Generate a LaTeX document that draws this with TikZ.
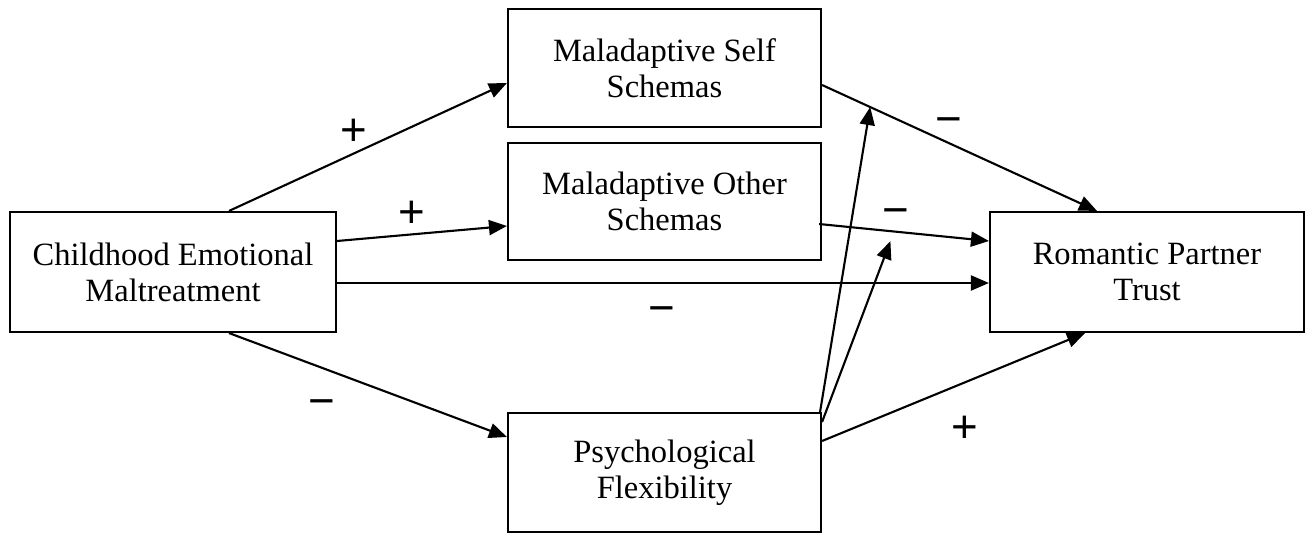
\documentclass[tikz,border=0pt]{standalone}
\usepackage{fontspec}
\setmainfont{Liberation Serif}
\newfontfamily\signfont{Liberation Sans}
\usetikzlibrary{arrows.meta,positioning,calc}

\begin{document}
\begin{tikzpicture}[
  box/.style={rectangle,draw=black,line width=1.2pt,minimum width=6.26cm,
              minimum height=2.36cm,align=center,
              font=\fontsize{18.5}{20.5}\selectfont},
  arr/.style={-{Triangle[length=0.36cm,width=0.3cm]},line width=1.2pt},
  sign/.style={font=\signfont\fontsize{26}{30}\selectfont,inner sep=0pt}
]
  \useasboundingbox (0,0) rectangle (26.16,-10.66);

  \node[box,minimum width=6.52cm,minimum height=2.4cm] (cem) at (3.46,-5.44)
        {Childhood Emotional\\Maltreatment};
  \node[box] (mss) at (13.29,-1.36) {Maladaptive Self\\Schemas};
  \node[box,minimum height=2.34cm] (mos) at (13.29,-4.03) {Maladaptive Other\\Schemas};
  \node[box,minimum height=2.38cm] (psf) at (13.29,-9.45) {Psychological\\Flexibility};
  \node[box,minimum width=6.28cm,minimum height=2.4cm] (rpt) at (22.94,-5.44)
        {Romantic Partner\\Trust};

  % a paths
  \draw[arr] ([xshift=1.12cm]cem.north) -- ([yshift=-0.3cm]mss.west);
  \draw[arr] ([yshift=0.62cm]cem.east) -- ([yshift=-0.49cm]mos.west);
  \draw[arr] ([xshift=1.12cm]cem.south) -- ([yshift=0.71cm]psf.west);
  % b paths
  \draw[arr] ([yshift=-0.34cm]mss.east) -- coordinate[pos=0.175] (m1)
             ([xshift=-1cm]rpt.north);
  \draw[arr] ([xshift=-0.06cm,yshift=-0.45cm]mos.east) -- coordinate[pos=0.42] (m2)
             ([yshift=0.62cm]rpt.west);
  \draw[arr] ([yshift=0.63cm]psf.east) -- ([xshift=-1.24cm]rpt.south);
  % direct path
  \draw[arr] ([yshift=-0.22cm]cem.east) -- ([yshift=-0.22cm]rpt.west);
  % moderation
  \draw[arr] ([xshift=-0.04cm]psf.north east) -- (m1);
  \draw[arr] ([yshift=1.01cm]psf.east) -- ([yshift=-0.2cm]m2);

  % signs
  \node[sign] (s1) at (7.08,-2.64)  {+};
  \node[sign] (s2) at (8.24,-4.28)  {+};
  \node[sign] (s3) at (6.44,-8.16)  {−};
  \node[sign] (s4) at (13.24,-6.3)  {−};
  \node[sign] (s5) at (18.98,-2.52) {−};
  \node[sign] (s6) at (17.92,-4.34) {−};
  \node[sign] (s7) at (19.3,-8.58)  {+};
\end{tikzpicture}
\end{document}
